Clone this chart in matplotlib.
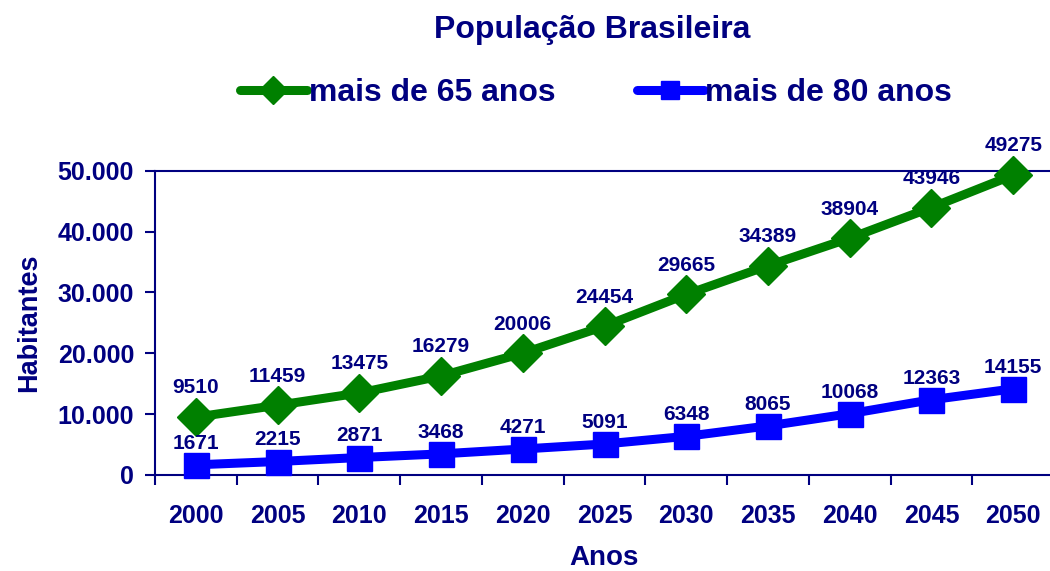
import matplotlib
matplotlib.use("Agg")
import matplotlib.pyplot as plt
from matplotlib.ticker import FixedLocator, FuncFormatter

years = ["2000", "2005", "2010", "2015", "2020", "2025", "2030", "2035", "2040", "2045", "2050"]
mais65 = [9510, 11459, 13475, 16279, 20006, 24454, 29665, 34389, 38904, 43946, 49275]
mais80 = [1671, 2215, 2871, 3468, 4271, 5091, 6348, 8065, 10068, 12363, 14155]

NAVY = "#000080"
GREEN = "#008000"
BLUE = "#0000FF"
plt.rcParams['font.family'] = ['Liberation Sans', 'DejaVu Sans']
plt.rcParams['font.weight'] = 'bold'

fig = plt.figure(figsize=(10.5, 5.71), dpi=100)
W, H = 1050, 571
ax = fig.add_axes([155 / W, (H - 475) / H, (1054 - 155) / W, (475 - 170.7) / H])

x = list(range(len(years)))
l1, = ax.plot(x, mais65, color=GREEN, lw=6.5, marker="D", ms=19, mfc=GREEN, mec=GREEN,
              label="mais de 65 anos", solid_capstyle="round", clip_on=False, zorder=3)
l2, = ax.plot(x, mais80, color=BLUE, lw=6.5, marker="s", ms=18, mfc=BLUE, mec=BLUE,
              label="mais de 80 anos", solid_capstyle="round", clip_on=False, zorder=3)

for xi, v in zip(x, mais65):
    ax.annotate(str(v), (xi, v), xytext=(0, 21), textcoords="offset points",
                ha="center", va="center", color=NAVY, fontsize=15, fontweight="bold")
for xi, v in zip(x, mais80):
    ax.annotate(str(v), (xi, v), xytext=(0, 15.5), textcoords="offset points",
                ha="center", va="center", color=NAVY, fontsize=15, fontweight="bold", zorder=4)

ax.set_xlim(-0.5, 10.5)
ax.set_ylim(0, 50000)
ax.set_yticks([0, 10000, 20000, 30000, 40000, 50000])
ax.yaxis.set_major_formatter(FuncFormatter(lambda v, p: f"{int(v):,}".replace(",", ".")))
ax.set_xticks(x)
ax.set_xticklabels(years)
ax.xaxis.set_minor_locator(FixedLocator([i + 0.5 for i in range(-1, 11)]))
ax.tick_params(axis="x", which="major", length=0, pad=21, labelsize=18, labelcolor=NAVY)
ax.tick_params(axis="x", which="minor", length=7, width=1.5, color=NAVY, direction="out")
ax.tick_params(axis="y", length=7, width=1.5, color=NAVY, direction="out", labelsize=18,
               labelcolor=NAVY, pad=8)
for lab in ax.get_xticklabels() + ax.get_yticklabels():
    lab.set_fontweight("bold")

for s in ["left", "bottom", "top"]:
    ax.spines[s].set_color(NAVY)
    ax.spines[s].set_linewidth(1.5)
ax.spines["right"].set_visible(False)

ax.set_xlabel("Anos", color=NAVY, fontsize=20, fontweight="bold", labelpad=12)
ax.set_ylabel("Habitantes", color=NAVY, fontsize=19.5, fontweight="bold", labelpad=11)

fig.text(592 / W, 1 - 30 / H, "População Brasileira", ha="center", va="center",
         color=NAVY, fontsize=23, fontweight="bold")

leg = fig.legend(handles=[l1, l2], loc="center", bbox_to_anchor=(596 / W, 1 - 93 / H),
                 ncol=2, frameon=False, fontsize=23, handlelength=2.1, handletextpad=0.05,
                 columnspacing=2.55, markerscale=0.75)
for t in leg.get_texts():
    t.set_color(NAVY)
    t.set_fontweight("bold")

fig.savefig("out.png", dpi=100)
